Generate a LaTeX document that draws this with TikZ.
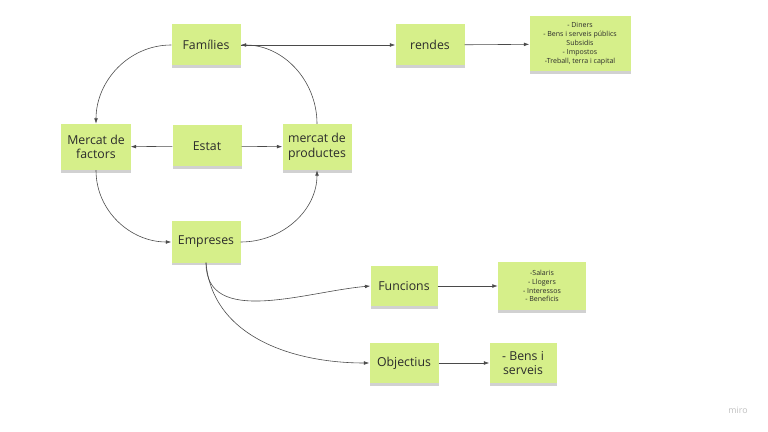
\documentclass[tikz,border=0pt]{standalone}
\usepackage{fontspec}
\setmainfont{Open Sans}
\usetikzlibrary{arrows.meta,shadows}
\definecolor{ink}{HTML}{2B2B2B}
\definecolor{wire}{HTML}{4A4A4A}
\definecolor{sticky}{HTML}{D6EF8A}
\tikzset{
  every node/.style={font=\rmfamily},
  note/.style={fill=sticky, draw=none, minimum width=2.07cm, minimum height=1.23cm,
               align=center, text=ink, font=\fontsize{10.5}{12.5}\selectfont, inner sep=1pt,
               drop shadow={shadow xshift=0pt, shadow yshift=-2.5pt, fill=black, opacity=0.18}},
  listnote/.style={note, font=\fontsize{6}{7.6}\selectfont},
  arr/.style={-{Latex[length=1.6mm, width=1.1mm]}, draw=wire, line width=0.5pt},
}

\begin{document}
\begin{tikzpicture}[x=0.03cm, y=-0.03cm]
\useasboundingbox (0,0) rectangle (768,432);

% top row
\node[note] (fam) at (206,45) {Famílies};
\node[note] (rendes) at (430,45) {rendes};
\node[listnote, minimum width=3.03cm, minimum height=1.65cm] (rlist) at (580,44)
  {- Diners\\- Bens i serveis públics\\Subsidis\\- Impostos\\-Treball, terra i capital};

% middle row
\node[note, minimum height=1.38cm] (fac) at (96,147) {Mercat de\\factors};
\node[note] (estat) at (207,146) {Estat};
\node[note, minimum height=1.38cm] (prod) at (317,147) {mercat de\\productes};

% bottom
\node[note] (emp) at (206,242) {Empreses};
\node[note, minimum width=2.01cm, minimum height=1.2cm] (fun) at (404,286) {Funcions};
\node[listnote, minimum width=2.64cm, minimum height=1.44cm] (flist) at (542,286)
  {-Salaris\\- Llogers\\- Interessos\\- Beneficis};
\node[note, minimum height=1.2cm] (obj) at (404,363) {Objectius};
\node[note, minimum width=2.01cm, minimum height=1.2cm] (bens) at (523,363) {- Bens i\\serveis};

\node[text=black!25, font=\fontsize{7.5}{9}\selectfont] (miro) at (738,410) {miro};

% cycle
\draw[arr] (fam.west) to[out=180, in=90] (fac.north);
\draw[arr] (prod.north) to[out=90, in=0] (fam.east);
\draw[arr] (fac.south) to[out=-90, in=180] (emp.west);
\draw[arr] (emp.east) to[out=0, in=-90] (prod.south);
\draw[arr] (estat) -- (fac);
\draw[arr] (estat) -- (prod);

% branches
\draw[arr] (fam) -- (rendes);
\draw[arr] (rendes) -- (rlist);
\draw[arr] (emp.south) to[out=-90, in=185] (fun.west);
\draw[arr] (emp.south) to[out=-85, in=180] (obj.west);
\draw[arr] (fun) -- (flist);
\draw[arr] (obj) -- (bens);

\end{tikzpicture}
\end{document}
